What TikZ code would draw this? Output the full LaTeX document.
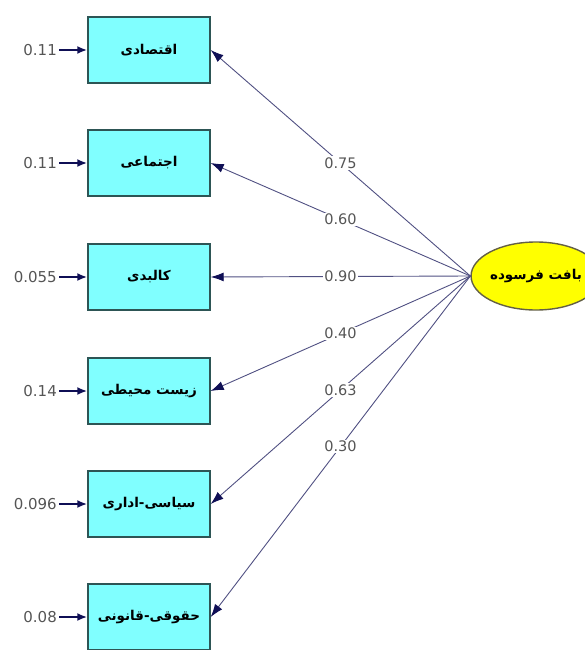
\documentclass[tikz,border=0pt]{standalone}
\usepackage{fontspec}
\setmainfont{DejaVu Sans}
\newfontfamily\farsi[Script=Arabic]{DejaVu Sans}
\TeXXeTstate=1
\usetikzlibrary{arrows.meta,shapes.geometric}
\definecolor{boxcyan}{RGB}{128,255,255}
\definecolor{boxedge}{RGB}{45,85,85}
\definecolor{pathblue}{RGB}{80,80,130}
\definecolor{tipblue}{RGB}{15,15,85}
\definecolor{numgray}{RGB}{85,85,85}
\definecolor{ellyellow}{RGB}{255,255,0}

\begin{document}
\begin{tikzpicture}[x=1pt,y=-1pt,
  ind/.style={draw=boxedge,line width=1.4pt,fill=boxcyan,minimum width=122pt,minimum height=66pt,inner sep=0pt,font=\farsi\bfseries\fontsize{13.5}{15}\selectfont},
  lat/.style={ellipse,draw=black!70!yellow,line width=1.4pt,fill=ellyellow,minimum width=128pt,minimum height=68pt,inner sep=0pt,font=\farsi\bfseries\fontsize{13.5}{15}\selectfont},
  coef/.style={fill=white,inner sep=1.5pt,text=numgray,font=\fontsize{14.5}{16}\selectfont},
  err/.style={inner sep=2pt,text=numgray,font=\fontsize{15}{17}\selectfont},
  load/.style={draw=pathblue,line width=0.9pt,-{Latex[length=13pt,width=9pt,color=tipblue]}},
  errarr/.style={draw=tipblue,line width=2pt,-{Latex[length=10pt,width=8pt,color=tipblue]}}]
\useasboundingbox (0,0) rectangle (585,650);

% indicators
\node[ind] (eco) at (149,50) {\beginR اقتصادی\endR};
\node[ind] (soc) at (149,163) {\beginR اجتماعی\endR};
\node[ind] (phys) at (149,277) {\beginR کالبدی\endR};
\node[ind] (env) at (149,391) {\beginR زیست محیطی\endR};
\node[ind] (pol) at (149,504) {\beginR سیاسی-اداری\endR};
\node[ind] (leg) at (149,617) {\beginR حقوقی-قانونی\endR};

% latent
\node[lat] (tissue) at (536,276) {\beginR بافت فرسوده\endR};

% error terms
\node[err,anchor=east] (e1) at (59,50) {0.11};
\node[err,anchor=east] (e2) at (59,163) {0.11};
\node[err,anchor=east] (e3) at (59,277) {0.055};
\node[err,anchor=east] (e4) at (59,391) {0.14};
\node[err,anchor=east] (e5) at (59,504) {0.096};
\node[err,anchor=east] (e6) at (59,617) {0.08};
\draw[errarr] (e1) -- (eco);
\draw[errarr] (e2) -- (soc);
\draw[errarr] (e3) -- (phys);
\draw[errarr] (e4) -- (env);
\draw[errarr] (e5) -- (pol);
\draw[errarr] (e6) -- (leg);

% loadings
\draw[load] (tissue.west) -- node[coef]{0.75} (eco.east);
\draw[load] (tissue.west) -- node[coef]{0.60} (soc.east);
\draw[load] (tissue.west) -- node[coef]{0.90} (phys.east);
\draw[load] (tissue.west) -- node[coef]{0.40} (env.east);
\draw[load] (tissue.west) -- node[coef]{0.63} (pol.east);
\draw[load] (tissue.west) -- node[coef]{0.30} (leg.east);
\end{tikzpicture}
\end{document}
